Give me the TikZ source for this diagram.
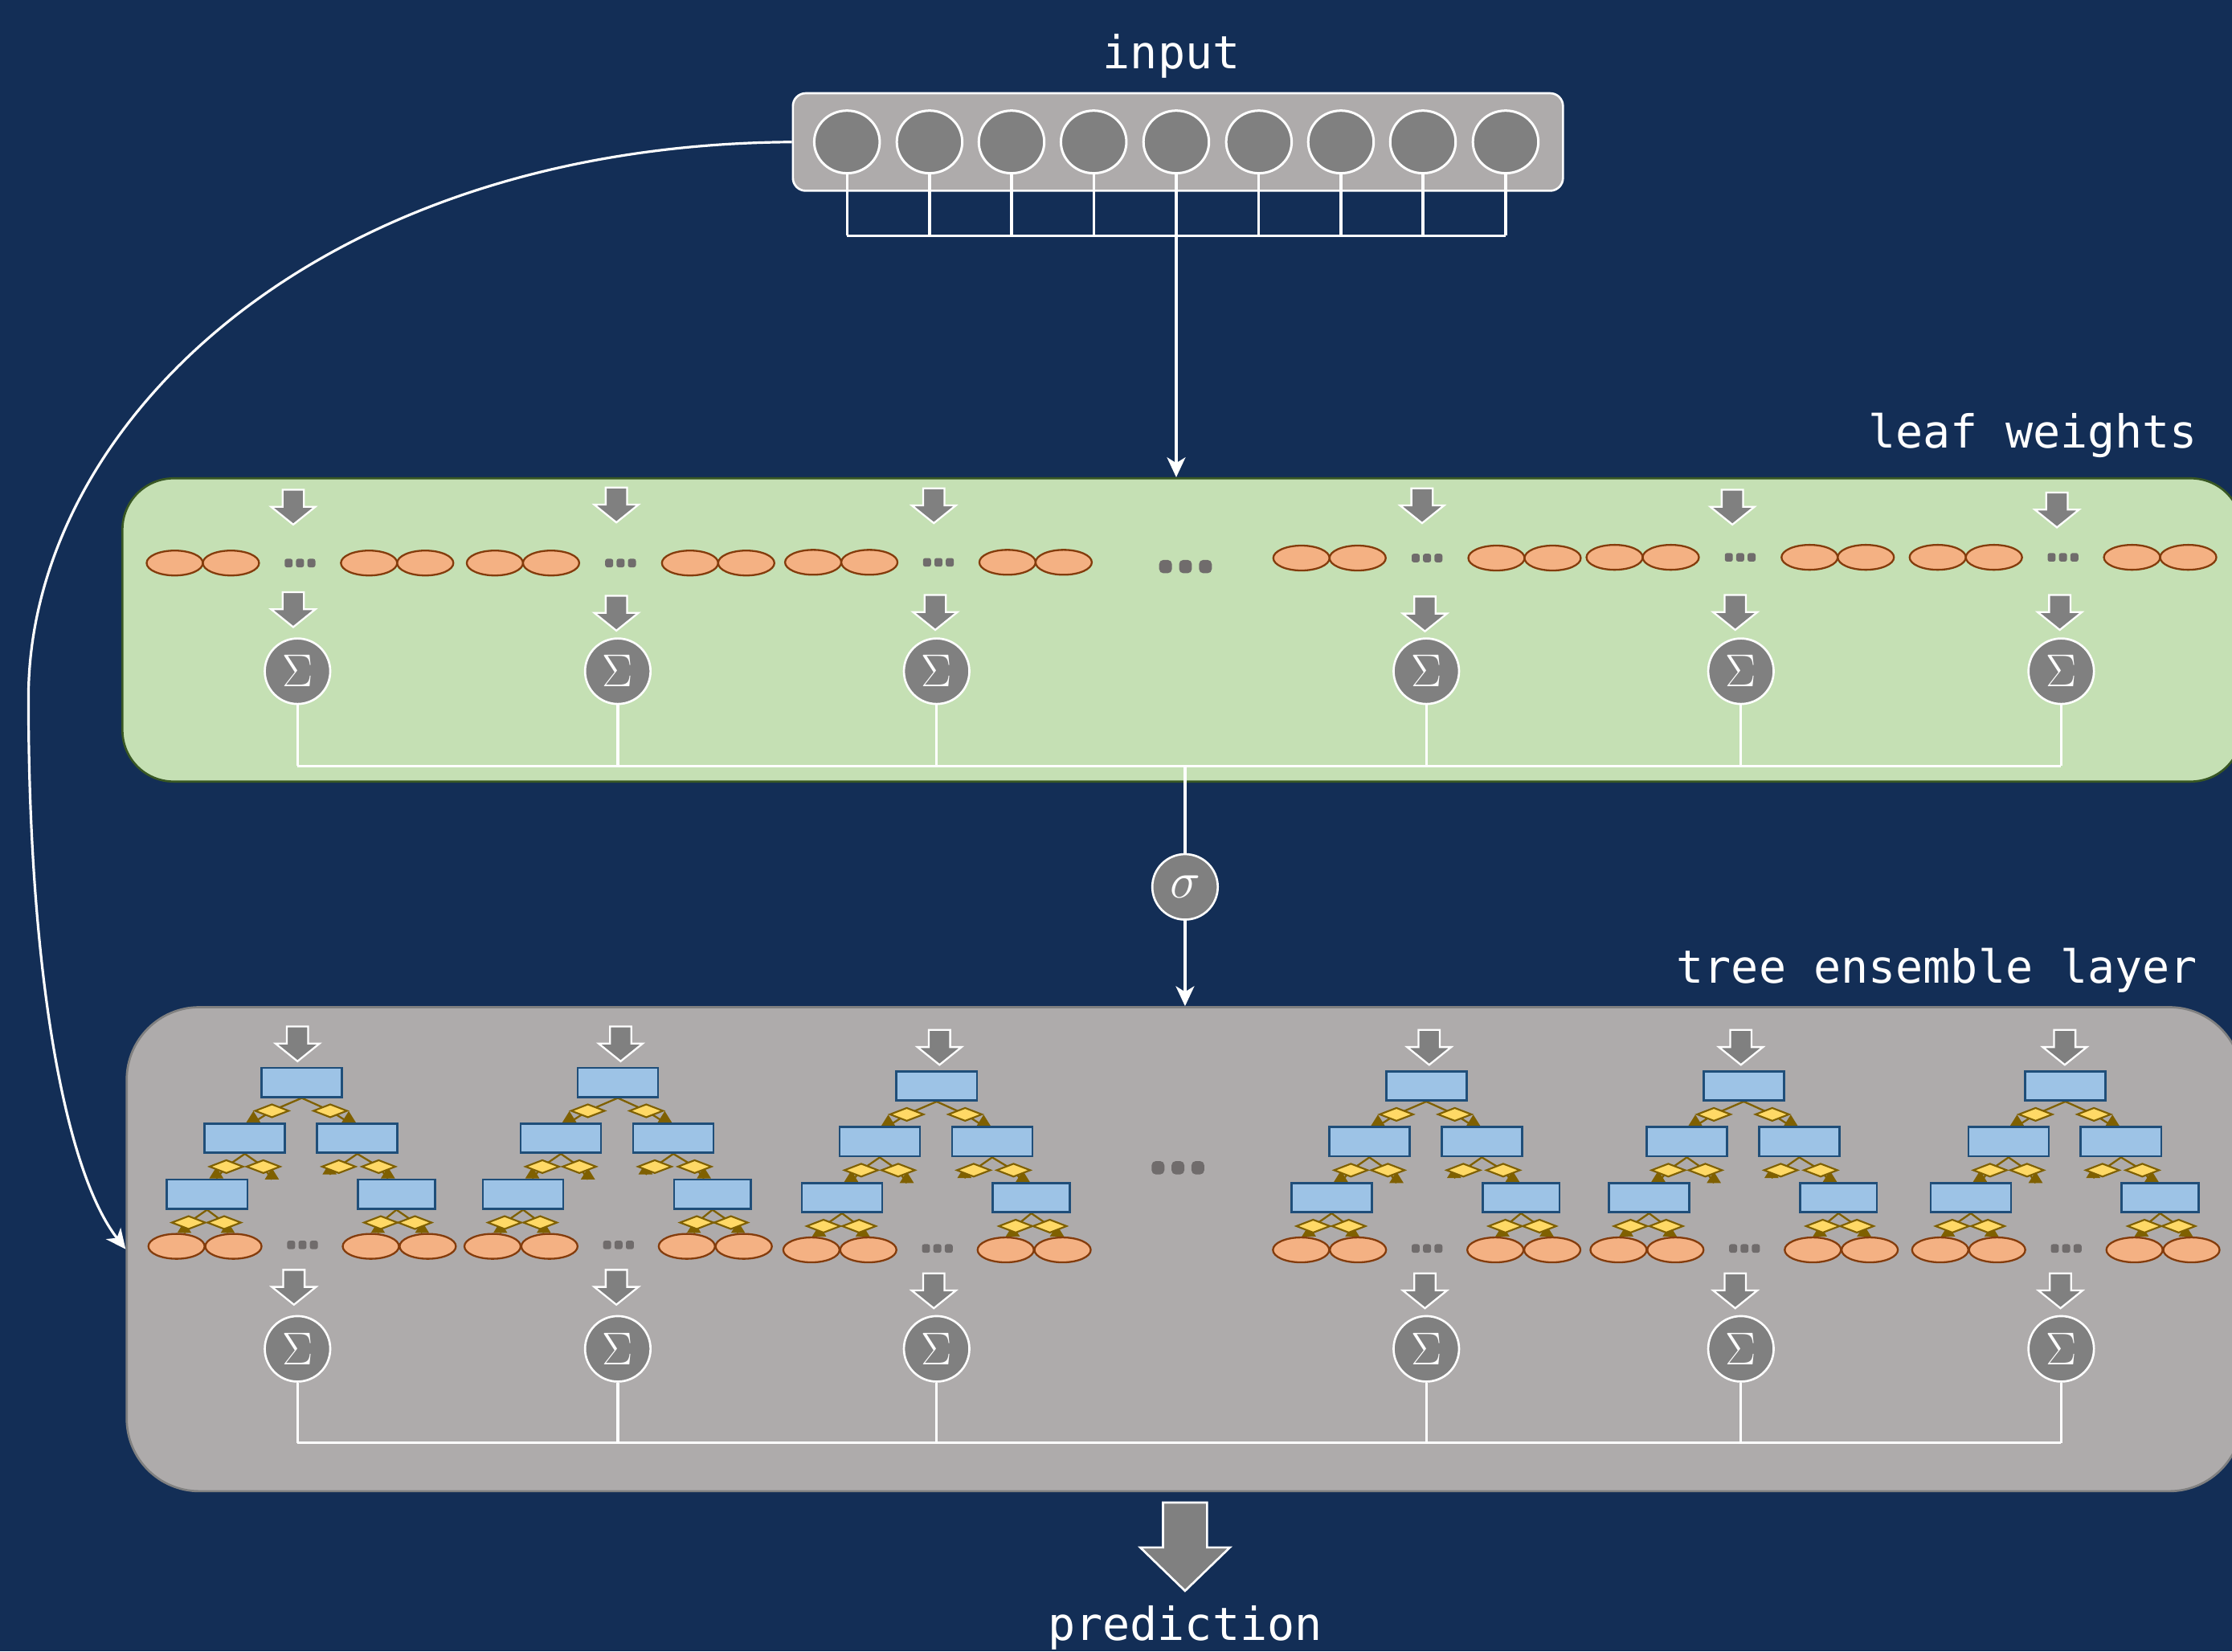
\documentclass[tikz,border=0pt]{standalone}
\usepackage{fontspec}
\setmonofont{DejaVu Sans Mono}
\usetikzlibrary{shapes.geometric,arrows.meta,calc}
\definecolor{bgnavy}{RGB}{19,46,86}
\definecolor{boxgray}{RGB}{174,171,171}
\definecolor{grayline}{RGB}{128,128,128}
\definecolor{gfill}{RGB}{197,224,180}
\definecolor{gline}{RGB}{56,87,35}
\definecolor{cgray}{RGB}{128,128,128}
\definecolor{leaffill}{RGB}{244,177,131}
\definecolor{leafline}{RGB}{132,60,12}
\definecolor{rectfill}{RGB}{157,195,230}
\definecolor{rectline}{RGB}{31,78,121}
\definecolor{diafill}{RGB}{255,217,102}
\definecolor{dline}{RGB}{127,96,0}
\definecolor{dotgray}{RGB}{112,108,108}
\pgfdeclarelayer{back}
\pgfdeclarelayer{mid}
\pgfsetlayers{back,mid,main}
\tikzset{
  lbl/.style={text=white, font=\ttfamily\fontsize{32}{38}\selectfont, inner sep=0pt},
  wline/.style={draw=white, line width=1.8pt},
  warrow/.style={wline, -{Stealth[length=14pt,width=13pt,inset=4pt]}},
  incirc/.style={ellipse, fill=cgray, draw=white, line width=1.7pt, minimum width=46pt, minimum height=44pt, inner sep=0pt},
  sig/.style={circle, fill=cgray, draw=white, line width=1.5pt, minimum size=46pt, inner sep=0pt, text=white, font=\fontsize{24}{24}\selectfont},
  leaf/.style={ellipse, fill=leaffill, draw=leafline, line width=1.3pt, minimum width=39.5pt, minimum height=17.5pt, inner sep=0pt},
  trect/.style={rectangle, fill=rectfill, draw=rectline, line width=1.5pt, minimum width=56.5pt, minimum height=20.5pt, inner sep=0pt},
  tline/.style={draw=dline, line width=1.3pt, line join=round},
  tdia/.style={diamond, fill=diafill, draw=dline, line width=1.2pt, minimum width=24pt, minimum height=9.5pt, inner sep=0pt},
  inbox/.style={rectangle, rounded corners=9pt, fill=boxgray, draw=white, line width=1.5pt, minimum width=541pt, minimum height=68.5pt},
  greenbox/.style={rectangle, rounded corners=36pt, fill=gfill, draw=gline, line width=1.5pt, minimum width=1489pt, minimum height=213pt},
  graybox/.style={rectangle, rounded corners=51pt, fill=boxgray, draw=grayline, line width=1.5pt, minimum width=1486pt, minimum height=340pt},
  barrow/.pic={\draw[fill=cgray, draw=white, line width=1.3pt, line join=miter]
     (-7.5,0) -- (7.5,0) -- (7.5,12) -- (15.5,12) -- (0,24.5) -- (-15.5,12) -- (-7.5,12) -- cycle;},
  bigarrow/.pic={\draw[fill=cgray, draw=white, line width=1.5pt, line join=miter]
     (-15.5,0) -- (15.5,0) -- (15.5,31.5) -- (31.5,31.5) -- (0,62) -- (-31.5,31.5) -- (-15.5,31.5) -- cycle;}
}
% #1 parent node, #2 end coordinate, #3 horizontal offset of the diamond from the parent
\newcommand\tedge[3]{%
  \begin{pgfonlayer}{mid}
  \draw[tline] (#1.south) -- ($(#1.south)+(#3,9)$) -- (#2);
  \fill[dline] ($(#2)+(-5,0)$) -- ($(#2)+(5,0)$) -- ($(#2)+(0,-8)$) -- cycle;
  \node[tdia] at ($(#1.south)+(#3,9)$) {};
  \end{pgfonlayer}}
\newcommand\smalldots[2]{%
  \foreach \dd in {-8,0,8}{\fill[dotgray,rounded corners=1.5pt] ({#1+\dd-2.8},{#2-3}) rectangle ++(5.6,6);}}
\newcommand\bigdots[2]{%
  \foreach \dd in {-14,0,14}{\fill[dotgray,rounded corners=3pt] ({#1+\dd-4.5},{#2-4.7}) rectangle ++(9,9.4);}}
\newcommand\sigtext{\scalebox{1.3}{$\Sigma$}}
\newcommand\drawgroup[9]{%
  \pic at (#3,#4) {barrow};
  \node[leaf] (#1l1) at ({#8-19.75},#7) {};
  \node[leaf] (#1l2) at ({#8+19.75},#7) {};
  \node[leaf] (#1l3) at ({#9-19.75},#7) {};
  \node[leaf] (#1l4) at ({#9+19.75},#7) {};
  \smalldots{(#8+#9)/2}{#7}
  \pic at (#5,#6) {barrow};
  \node[sig] (#1s) at (#2,471.5) {\sigtext};
  \draw[wline] (#1s.south) -- (#1s.south |- gbar);}
\newcommand\drawtree[6]{%
  \pic at (#4,{721+#3}) {barrow};
  \node[trect] (#1r) at (#2,{760.3+#3}) {};
  \node[trect] (#1a) at ({#2-40},{799.5+#3}) {};
  \node[trect] (#1b) at ({#2+39},{799.5+#3}) {};
  \node[trect] (#1c) at ({#2-66.5},{838.8+#3}) {};
  \node[trect,minimum width=54pt] (#1d) at ({#2+66.5},{838.8+#3}) {};
  \node[leaf] (#1l1) at ({#2-88},{875.5+#3}) {};
  \node[leaf] (#1l2) at ({#2-48},{875.5+#3}) {};
  \node[leaf] (#1l3) at ({#2+48.5},{875.5+#3}) {};
  \node[leaf] (#1l4) at ({#2+88.5},{875.5+#3}) {};
  \coordinate (#1e1) at ($(#1a.north)+(6,0)$);
  \coordinate (#1e2) at ($(#1b.north)+(-6,0)$);
  \coordinate (#1e3) at ($(#1c.north)+(6.5,0)$);
  \coordinate (#1e4) at ({#2-21},{828.5+#3});
  \coordinate (#1e5) at ({#2+19.5},{825+#3});
  \coordinate (#1e6) at ($(#1d.north)+(-6,0)$);
  \coordinate (#1e7) at ($(#1l1.north)+(5.5,0)$);
  \coordinate (#1e8) at ($(#1l2.north)+(-4,0)$);
  \coordinate (#1e9) at ($(#1l3.north)+(5,0)$);
  \coordinate (#1e10) at ($(#1l4.north)+(-4,0)$);
  \tedge{#1r}{#1e1}{-21}\tedge{#1r}{#1e2}{20}
  \tedge{#1a}{#1e3}{-13}\tedge{#1a}{#1e4}{13}
  \tedge{#1b}{#1e5}{-13}\tedge{#1b}{#1e6}{15}
  \tedge{#1c}{#1e7}{-13}\tedge{#1c}{#1e8}{12}
  \tedge{#1d}{#1e9}{-11}\tedge{#1d}{#1e10}{13}
  \smalldots{#2+0.5}{874.5+#3}
  \pic at (#5,{892+#3}) {barrow};
  \node[sig] (#1s) at (#6,947.5) {\sigtext};
  \draw[wline] (#1s.south) -- (#1s.south |- tbar);}

\begin{document}
\begin{tikzpicture}[x=1pt,y=-1pt]
\useasboundingbox (0,0) rectangle (1568,1160);
\begin{pgfonlayer}{back}
  \fill[bgnavy] (0,0) rectangle (1568,1160);
  \node[greenbox] (green) at (830.5,442.5) {};
  \node[graybox] (gray) at (832,877.5) {};
\end{pgfonlayer}

% input
\node[lbl, anchor=base] (tin) at (823,48) {input};
\node[inbox] (inbox) at (827.5,99.75) {};
\foreach \i/\x in {1/595,2/653,3/710.6,4/768.3,5/826.3,6/884.4,7/942,8/999.6,9/1057.7}{
  \node[incirc] (c\i) at (\x,99.7) {};
}
\coordinate (ibar) at (826.3,165.6);
\foreach \i in {1,...,9}{\draw[wline] (c\i.south) -- (c\i.south |- ibar);}
\draw[wline] (c1.south |- ibar) -- (c9.south |- ibar);
\draw[warrow] (c5.south) -- (c5.south |- green.north);
\draw[warrow] (inbox.west) .. controls (220,102) and (20,300) .. (20,490)
   .. controls (20,680) and (45,822) .. (gray.west);

% leaf weights layer
\node[lbl, anchor=base east] (tleaf) at (1544,314.5) {leaf weights};
\coordinate (gbar) at (832.5,538);
\drawgroup{g1}{209}{206}{344}{206}{416}{395.5}{142.5}{279}
\drawgroup{g2}{434}{433}{342.5}{433}{418.5}{395.5}{367.4}{504.5}
\drawgroup{g3}{658}{656}{343}{657}{418}{395}{591}{727.5}
\drawgroup{g4}{1002}{999}{343}{1001}{419}{392}{934}{1071}
\drawgroup{g5}{1223}{1217}{344}{1219}{418}{391.5}{1154}{1291}
\drawgroup{g6}{1448}{1445}{346}{1447}{418}{391.5}{1381}{1517.5}
\bigdots{832.8}{398}
\draw[wline] (g1s.south |- gbar) -- (g6s.south |- gbar);
\node[sig] (sigma) at (832.5,623) {\scalebox{1.45}{$\sigma$}};
\draw[wline] (gbar) -- (sigma);
\draw[warrow] (sigma) -- (sigma |- gray.north);

% tree ensemble layer
\node[lbl, anchor=base east] (ttree) at (1544,690.5) {tree ensemble layer};
\coordinate (tbar) at (832,1013.5);
\drawtree{t1}{212}{0}{209}{206.5}{209}
\drawtree{t2}{434}{0}{436}{433}{434}
\drawtree{t3}{658}{2.5}{660}{656}{658}
\drawtree{t4}{1002}{2.5}{1004}{1001}{1002}
\drawtree{t5}{1225}{2.5}{1223}{1219}{1223}
\drawtree{t6}{1451}{2.5}{1450.5}{1447.5}{1448}
\bigdots{827.5}{820.3}
\draw[wline] (t1s.south |- tbar) -- (t6s.south |- tbar);

% prediction
\pic at (832.5,1055.5) {bigarrow};
\node[lbl, anchor=base] (tpred) at (832.5,1152.5) {prediction};
\end{tikzpicture}
\end{document}
